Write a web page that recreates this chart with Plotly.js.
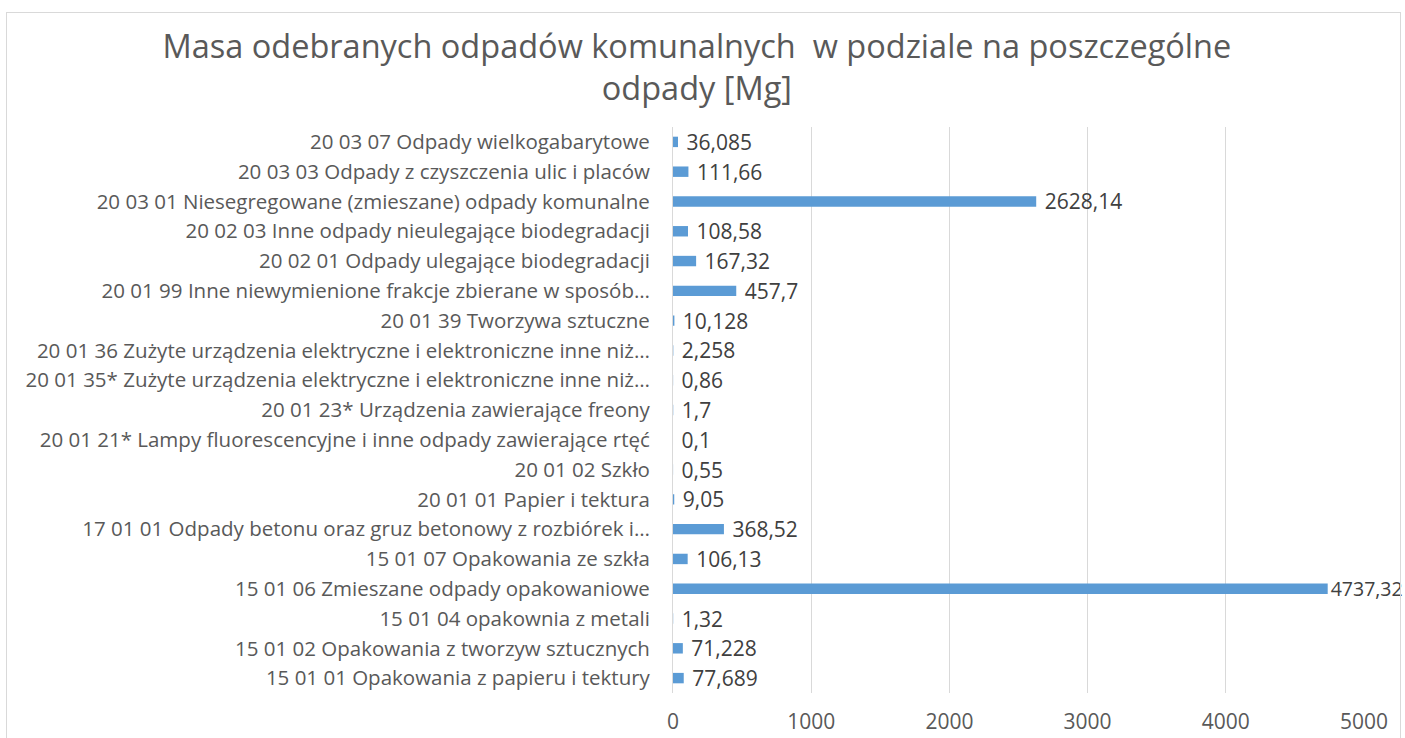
<!DOCTYPE html>
<html>
<head>
<meta charset="utf-8">
<script src="https://cdn.plot.ly/plotly-3.0.1.min.js"></script>
<style>
  html, body { margin: 0; padding: 0; background: #ffffff; }
  #wrap { position: relative; width: 1405px; height: 738px; overflow: hidden; }
  #chart { position: absolute; left: 0; top: 0; width: 1405px; height: 738px; }
  #frame { position: absolute; left: 6px; top: 12px; width: 1393px; height: 760px;
           border: 1px solid #d9d9d9; pointer-events: none; }
</style>
</head>
<body>
<div id="wrap">
  <div id="chart"></div>
  <div id="frame"></div>
</div>
<script>
// Categories listed top-to-bottom as they appear in the chart
const categories = [
  "20 03 07 Odpady wielkogabarytowe",
  "20 03 03 Odpady z czyszczenia ulic i placów",
  "20 03 01 Niesegregowane (zmieszane) odpady komunalne",
  "20 02 03 Inne odpady nieulegające biodegradacji",
  "20 02 01 Odpady ulegające biodegradacji",
  "20 01 99 Inne niewymienione frakcje zbierane w sposób…",
  "20 01 39 Tworzywa sztuczne",
  "20 01 36 Zużyte urządzenia elektryczne i elektroniczne inne niż…",
  "20 01 35* Zużyte urządzenia elektryczne i elektroniczne inne niż…",
  "20 01 23* Urządzenia zawierające freony",
  "20 01 21* Lampy fluorescencyjne i inne odpady zawierające rtęć",
  "20 01 02 Szkło",
  "20 01 01 Papier i tektura",
  "17 01 01 Odpady betonu oraz gruz betonowy z rozbiórek i…",
  "15 01 07 Opakowania ze szkła",
  "15 01 06 Zmieszane odpady opakowaniowe",
  "15 01 04 opakownia z metali",
  "15 01 02 Opakowania z tworzyw sztucznych",
  "15 01 01 Opakowania z papieru i tektury"
];
const massMg = [
  36.085, 111.66, 2628.14, 108.58, 167.32, 457.7, 10.128, 2.258, 0.86, 1.7,
  0.1, 0.55, 9.05, 368.52, 106.13, 4737.32, 1.32, 71.228, 77.689
];
const xTicks = [0, 1000, 2000, 3000, 4000, 5000];

const maxVal = Math.max(...massMg);
// Polish decimal comma; small gap before labels, none for the longest bar (it sits at the edge)
const valueLabels = massMg.map(v => (v === maxVal ? '' : ' ') + String(v).replace('.', ','));
const labelSizes = massMg.map(v => (v === maxVal ? 19.5 : 21));

const trace = {
  type: 'bar',
  orientation: 'h',
  x: massMg,
  y: categories,
  text: valueLabels,
  textposition: 'outside',
  constraintext: 'none',
  cliponaxis: false,
  textfont: { family: 'Open Sans, sans-serif', size: labelSizes, color: '#404040' },
  marker: { color: '#5b9bd5', line: { width: 0 } },
  hoverinfo: 'x+y'
};

const layout = {
  width: 1405,
  height: 738,
  paper_bgcolor: '#ffffff',
  plot_bgcolor: '#ffffff',
  margin: { l: 673, r: 41, t: 127, b: 45 },
  showlegend: false,
  bargap: 0.65,
  title: {
    text: 'Masa odebranych odpadów komunalnych  w podziale na poszczególne<br>odpady [Mg]',
    font: { family: 'Open Sans, sans-serif', size: 32.5, color: '#595959' },
    x: 0.496, xanchor: 'center',
    yref: 'container',
    y: 0.922, yanchor: 'top'
  },
  xaxis: {
    range: [0, 5000],
    tickvals: xTicks,
    ticktext: xTicks.map(String),
    showgrid: true,
    gridcolor: '#d9d9d9',
    gridwidth: 1,
    zeroline: false,
    showline: false,
    ticks: 'outside',
    ticklen: 10,
    tickcolor: 'rgba(0,0,0,0)',
    tickfont: { family: 'Open Sans, sans-serif', size: 21, color: '#595959' },
    fixedrange: true
  },
  yaxis: {
    type: 'category',
    autorange: 'reversed',
    showgrid: false,
    zeroline: false,
    showline: true,
    linecolor: '#d9d9d9',
    linewidth: 1,
    ticks: 'outside',
    ticklen: 18,
    tickcolor: 'rgba(0,0,0,0)',
    tickfont: { family: 'Open Sans, sans-serif', size: 20.5, color: '#595959' },
    automargin: false,
    fixedrange: true
  }
};

Plotly.newPlot('chart', [trace], layout, { displayModeBar: false, staticPlot: true });
</script>
</body>
</html>
